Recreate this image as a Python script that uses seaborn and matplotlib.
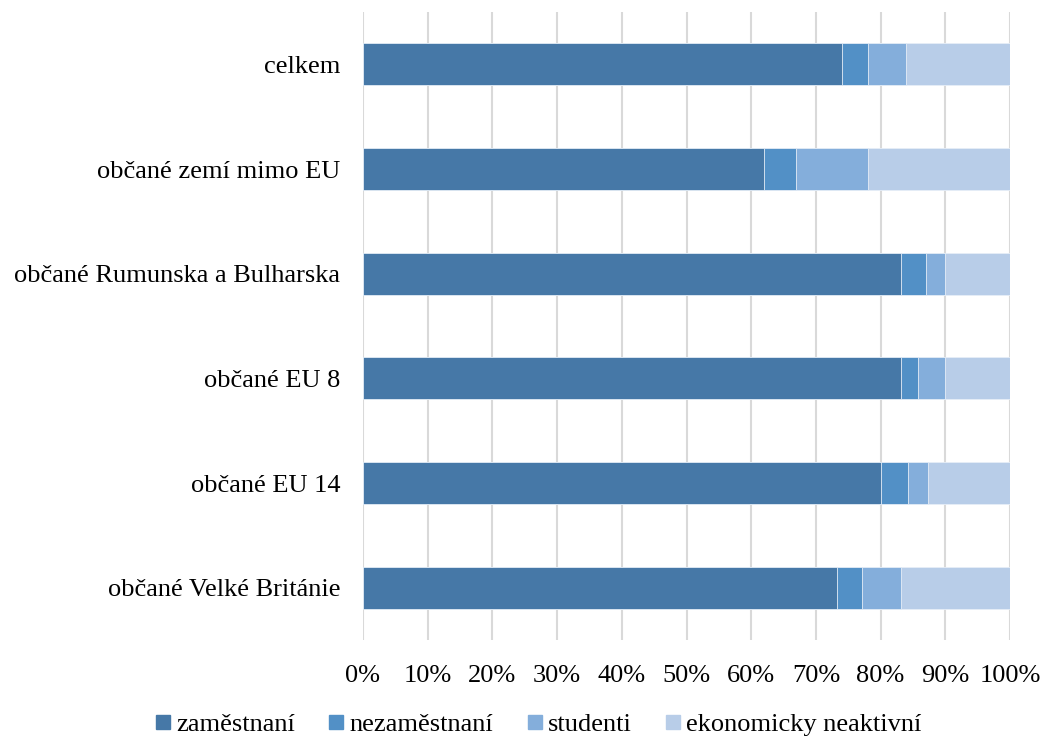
import numpy as np
import pandas as pd
import matplotlib
matplotlib.use("Agg")
import matplotlib.pyplot as plt
from matplotlib.lines import Line2D
import seaborn as sns

# Struktura obyvatel podle ekonomické aktivity (%)
categories = [
    "celkem",
    "občané zemí mimo EU",
    "občané Rumunska a Bulharska",
    "občané EU 8",
    "občané EU 14",
    "občané Velké Británie",
]
series_names = ["zaměstnaní", "nezaměstnaní", "studenti", "ekonomicky neaktivní"]
zamestnani = [74.0, 62.0, 83.1, 83.1, 80.1, 73.3]
nezamestnani = [4.0, 4.9, 3.9, 2.7, 4.2, 3.8]
studenti = [5.9, 11.1, 3.0, 4.2, 3.1, 6.1]
neaktivni = [16.1, 22.0, 10.0, 10.0, 12.6, 16.8]
x_ticks = [0, 10, 20, 30, 40, 50, 60, 70, 80, 90, 100]

colors = ["#4678A7", "#5290C6", "#84AEDB", "#B8CDE8"]

sns.set_theme(style="white")
plt.rcParams["font.family"] = ["Liberation Serif", "DejaVu Serif"]
plt.rcParams["text.color"] = "black"

df = pd.DataFrame({
    "kategorie": categories,
    series_names[0]: zamestnani,
    series_names[1]: nezamestnani,
    series_names[2]: studenti,
    series_names[3]: neaktivni,
})
cum = df[series_names].cumsum(axis=1)

fig = plt.figure(figsize=(10.42, 7.40), dpi=100)
ax = fig.add_axes([363 / 1042, 1 - 640 / 740, 647 / 1042, 628 / 740])

# stacked bars: draw cumulative totals from the outermost segment inwards
for name, col in reversed(list(zip(series_names, colors))):
    sns.barplot(x=cum[name], y=df["kategorie"], color=col, orient="h",
                width=0.4, ax=ax, edgecolor="#E6EEF7", linewidth=0.6,
                saturation=1)

ax.set_xlim(0, 100)
ax.set_xticks(x_ticks)
ax.set_xticklabels([f"{t}%" for t in x_ticks], fontsize=19)
ax.set_ylabel("")
ax.set_xlabel("")
ax.tick_params(axis="y", labelsize=19, pad=16.5, length=0)
ax.tick_params(axis="x", pad=18, length=0)
for lbl in ax.get_yticklabels() + ax.get_xticklabels():
    lbl.set_color("black")

ax.grid(axis="x", color="#D9D9D9", linewidth=1.5)
ax.grid(axis="y", visible=False)
ax.set_axisbelow(True)
for s in ax.spines.values():
    s.set_visible(False)

handles = [Line2D([0], [0], marker="s", linestyle="", markersize=10,
                  markerfacecolor=c, markeredgecolor=c) for c in colors]
leg = fig.legend(handles, series_names, loc="center", ncol=4,
                 bbox_to_anchor=(0.517, 0.021), frameon=False, fontsize=19,
                 handletextpad=0.22, columnspacing=1.3, handlelength=0.55,
                 borderpad=0.0)
for t in leg.get_texts():
    t.set_color("black")

fig.savefig("out.png", dpi=100, facecolor="white")
